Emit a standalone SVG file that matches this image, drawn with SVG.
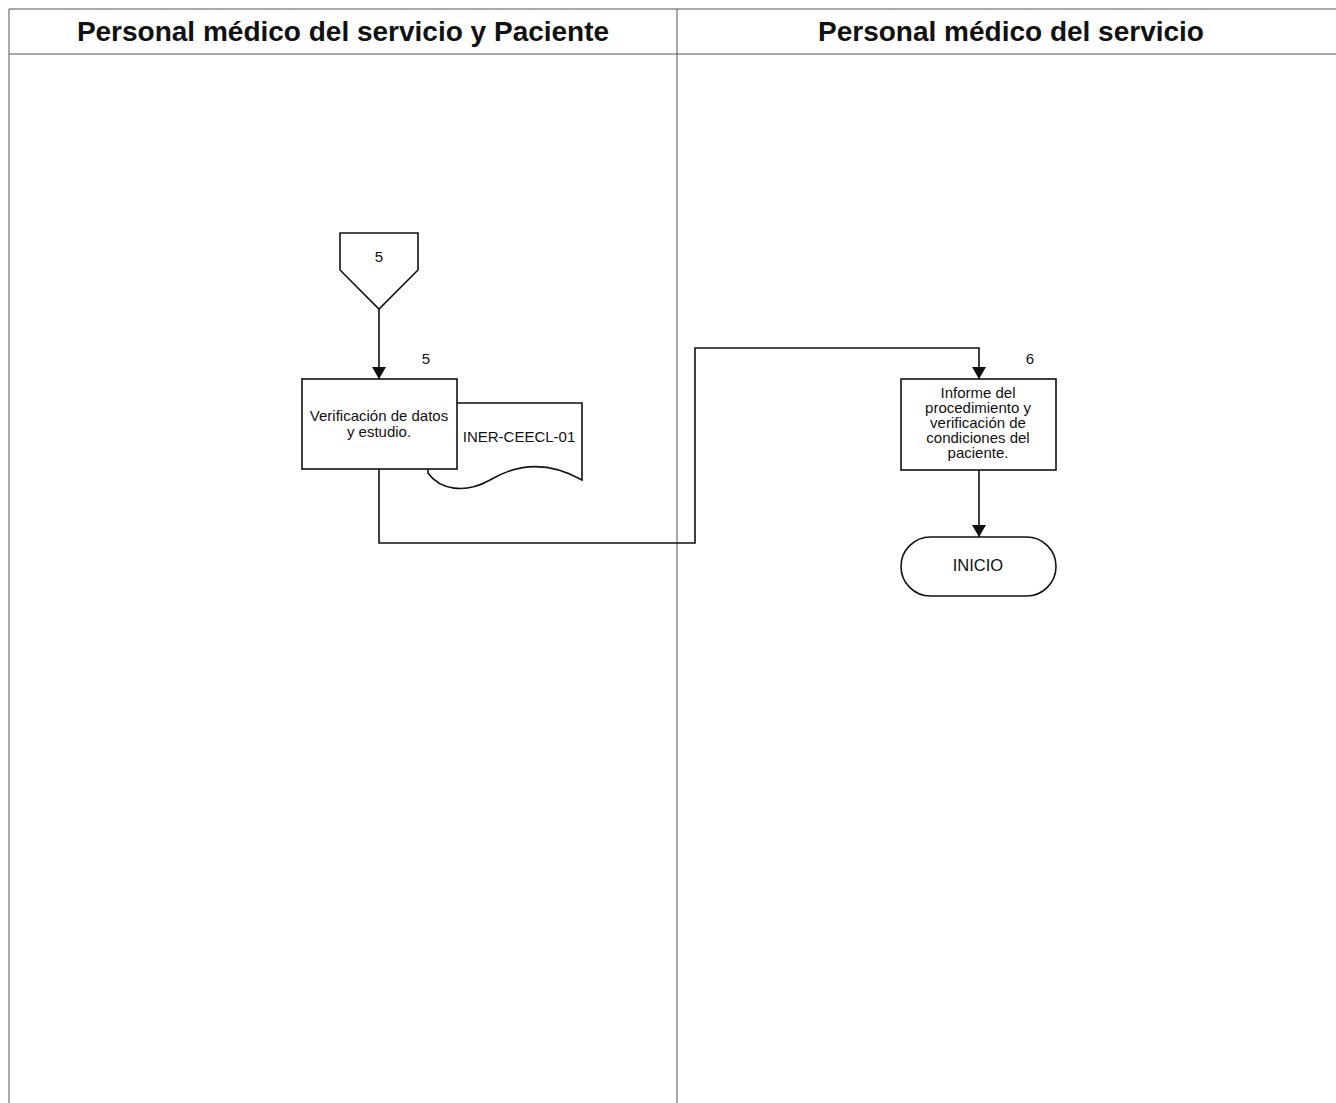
<svg xmlns="http://www.w3.org/2000/svg" width="1336" height="1103" viewBox="0 0 1336 1103">
<defs>
<style>
.frame{fill:none;stroke:#555;stroke-width:1}
.shape{fill:#fff;stroke:#111;stroke-width:1.6}
.conn{fill:none;stroke:#111;stroke-width:1.6}
.hdr{font-family:"Liberation Sans",Arial,sans-serif;font-weight:bold;font-size:28px;fill:#111;text-anchor:middle}
.lbl{font-family:"Liberation Sans",Arial,sans-serif;font-size:15px;fill:#111;text-anchor:middle}
</style>
<marker id="arr" viewBox="0 0 12 14" refX="12" refY="7" markerWidth="12" markerHeight="14" markerUnits="userSpaceOnUse" orient="auto">
<path d="M0,0 L12,7 L0,14 Z" fill="#111"/>
</marker>
</defs>
<rect width="1336" height="1103" fill="#fff"/>
<g id="lanes">
<path class="frame" d="M9,1103 V9 H1336 M9,54 H1336 M677,9 V1103"/>
<text class="hdr" x="343" y="41">Personal médico del servicio y Paciente</text>
<text class="hdr" x="1011" y="41">Personal médico del servicio</text>
</g>
<g id="connectors">
<path class="conn" d="M379,309 V379" marker-end="url(#arr)"/>
<path class="conn" d="M379,469 V543 H695 V348 H979 V379" marker-end="url(#arr)"/>
<path class="conn" d="M979,470 V537" marker-end="url(#arr)"/>
</g>
<g id="offpage5">
<path class="shape" d="M340,233 H418 V270 L379,309 L340,270 Z"/>
<text class="lbl" x="379" y="262">5</text>
</g>
<g id="doc1">
<path class="shape" d="M428,403 H582 V480 C550,462 520,462 490,480 C465,494 440,490 428,473 Z"/>
<text class="lbl" x="519" y="442">INER-CEECL-01</text>
</g>
<g id="step5">
<rect class="shape" x="302" y="379" width="155" height="90"/>
<text class="lbl" x="426" y="364">5</text>
<text class="lbl" x="379" y="421">Verificación de datos</text>
<text class="lbl" x="379" y="437">y estudio.</text>
</g>
<g id="step6">
<rect class="shape" x="901" y="379" width="155" height="91"/>
<text class="lbl" x="1030" y="364">6</text>
<text class="lbl" x="978" y="398">Informe del</text>
<text class="lbl" x="978" y="413">procedimiento y</text>
<text class="lbl" x="978" y="428">verificación de</text>
<text class="lbl" x="978" y="443">condiciones del</text>
<text class="lbl" x="978" y="458">paciente.</text>
</g>
<g id="inicio">
<rect class="shape" x="901" y="537" width="155" height="59" rx="29.5" ry="29.5"/>
<text class="lbl" x="978" y="571" style="font-size:16.5px">INICIO</text>
</g>
</svg>
